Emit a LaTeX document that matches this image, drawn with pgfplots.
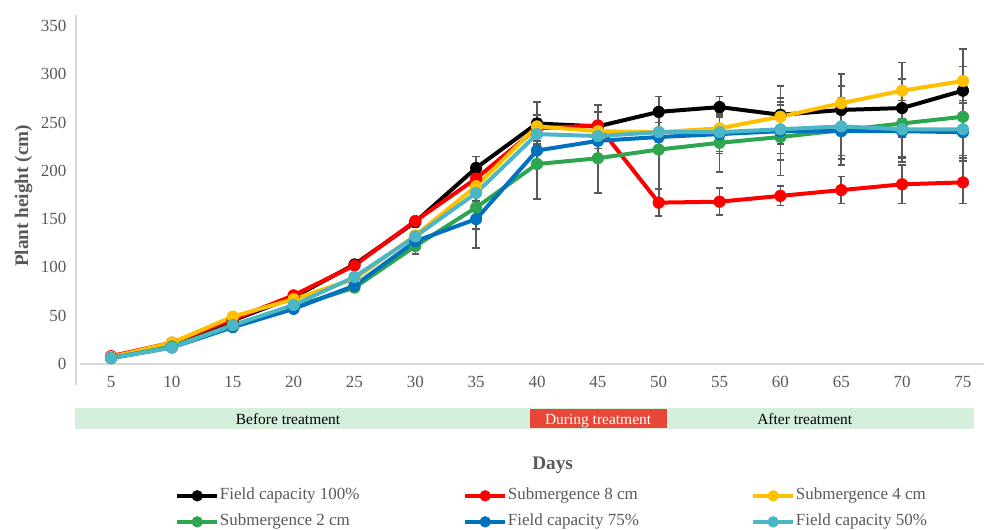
\documentclass[border=0pt]{standalone}
\usepackage{fontspec}
\setmainfont{Liberation Serif}
\usepackage{pgfplots}
\pgfplotsset{compat=1.18}
\definecolor{cBlack}{RGB}{0,0,0}
\definecolor{cRed}{RGB}{255,0,0}
\definecolor{cYel}{RGB}{255,192,0}
\definecolor{cGreen}{RGB}{46,166,80}
\definecolor{cBlue}{RGB}{0,112,192}
\definecolor{cCyan}{RGB}{75,182,197}
\definecolor{ebcol}{RGB}{89,89,89}
\definecolor{txtcol}{RGB}{89,89,89}
\definecolor{axcol}{RGB}{217,217,217}
\definecolor{bandG}{RGB}{212,239,220}
\definecolor{bandR}{RGB}{232,70,55}
\pgfplotsset{
  eb/.style={error bars/.cd, y dir=both, y explicit,
    error bar style={color=ebcol, line width=1.2pt, solid},
    error mark options={color=ebcol, line width=1.2pt, mark size=2.8pt, rotate=90}},
  ser/.style={color=#1, line width=3pt, mark=*, mark size=4.3pt,
    mark options={solid, fill=#1, draw=#1, line width=0.5pt}},
}
\begin{document}
\begin{tikzpicture}
\begin{axis}[
  scale only axis, width=687.3pt, height=267.5pt,
  xmin=2.2, xmax=77.5, ymin=-8, ymax=361.4,
  clip=false,
  axis line style={draw=none},
  xtick={5,10,...,75}, ytick={0,50,...,350},
  major tick length=0pt,
  tick label style={font=\fontsize{12.75}{15}\selectfont, color=txtcol},
  /pgf/number format/assume math mode=true,
  yticklabel style={xshift=-4.5pt},
  xlabel={Days}, ylabel={Plant height (cm)},
  label style={font=\bfseries\fontsize{14.4}{17}\selectfont, color=txtcol},
  xlabel style={at={(axis description cs:0.519,-0.2616)}, anchor=center},
  ylabel style={at={(axis description cs:-0.0584,0.4926)}, anchor=center},
  legend columns=3,
  legend style={draw=none, fill=none, inner sep=0pt,
    at={(axis description cs:0.1069,-0.3232)}, anchor=north west,
    row sep=6.5pt,
    nodes={inner sep=0.5pt, text height=9pt, text depth=3pt,
      font=\fontsize{12.75}{15}\selectfont, text=txtcol}},
  legend cell align=left,
  legend image code/.code={\draw[#1, mark repeat=2, mark phase=2, mark size=4pt]
    plot coordinates {(0pt,0pt) (15pt,0pt) (30pt,0pt)};},
]
% axis lines and treatment band
\draw[axcol, line width=1.1pt] (axis cs:2.45,0) -- (axis cs:77.6,0);
\draw[axcol, line width=1.1pt] (axis cs:2.12,-21.7) -- (axis cs:2.12,361.4);
\fill[bandG] (axis cs:2.02,-45.25) rectangle (axis cs:75.9,-67.6);
\fill[bandR] (axis cs:39.43,-46.6) rectangle (axis cs:50.69,-66.3);
\node[font=\fontsize{11.6}{14}\selectfont, text=black, anchor=base] at (axis cs:19.54,-62.6) {Before treatment};
\node[font=\fontsize{11.6}{14}\selectfont, text=white, anchor=base] at (axis cs:45.02,-62.6) {During treatment};
\node[font=\fontsize{11.6}{14}\selectfont, text=black, anchor=base] at (axis cs:62.0,-62.6) {After treatment};
\coordinate (BL) at (axis cs:-4.127,-171.9);
\coordinate (TR) at (axis cs:76.73,376.9);

\addplot[ser=cBlack, eb] coordinates {
(5,7) +- (0,1) (10,20) +- (0,2) (15,45) +- (0,3) (20,69) +- (0,3) (25,103) +- (0,4)
(30,147) +- (0,5) (35,203) +- (0,12) (40,249) +- (0,22) (45,246) +- (0,15) (50,261) +- (0,16)
(55,266) +- (0,11) (60,258) +- (0,30) (65,263) +- (0,25) (70,265) +- (0,30) (75,283) +- (0,25)};
\addlegendentry{\makebox[182pt][l]{Field capacity 100\%}}

\addplot[ser=cRed, eb] coordinates {
(5,8) +- (0,1) (10,22) +- (0,2) (15,46) +- (0,3) (20,71) +- (0,3) (25,102) +- (0,4)
(30,148) +- (0,4) (35,192) +- (0,10) (40,244) +- (0,10) (45,247) +- (0,21) (50,167) +- (0,14)
(55,168) +- (0,14) (60,174) +- (0,10) (65,180) +- (0,14) (70,186) +- (0,20) (75,188) +- (0,22)};
\addlegendentry{\makebox[182pt][l]{Submergence 8 cm}}

\addplot[ser=cYel, eb] coordinates {
(5,7) +- (0,1) (10,22) +- (0,2) (15,49) +- (0,3) (20,67) +- (0,3) (25,88) +- (0,4)
(30,133) +- (0,5) (35,184) +- (0,10) (40,246) +- (0,12) (45,241) +- (0,10) (50,240) +- (0,10)
(55,244) +- (0,12) (60,256) +- (0,20) (65,270) +- (0,30) (70,283) +- (0,29) (75,293) +- (0,33)};
\addlegendentry{Submergence 4 cm}

\addplot[ser=cGreen, eb] coordinates {
(5,6) +- (0,1) (10,18) +- (0,2) (15,40) +- (0,3) (20,59) +- (0,3) (25,79) +- (0,4)
(30,122) +- (0,8) (35,162) +- (0,22) (40,207) +- (0,36) (45,213) +- (0,36) (50,222) +- (0,41)
(55,229) +- (0,30) (60,235) +- (0,40) (65,242) +- (0,30) (70,249) +- (0,35) (75,256) +- (0,40)};
\addlegendentry{\makebox[182pt][l]{Submergence 2 cm}}

\addplot[ser=cBlue, eb] coordinates {
(5,6) +- (0,1) (10,17) +- (0,2) (15,38) +- (0,3) (20,57) +- (0,3) (25,81) +- (0,4)
(30,127) +- (0,5) (35,150) +- (0,30) (40,221) +- (0,10) (45,231) +- (0,8) (50,235) +- (0,10)
(55,238) +- (0,20) (60,241) +- (0,30) (65,241) +- (0,35) (70,241) +- (0,32) (75,240) +- (0,30)};
\addlegendentry{\makebox[182pt][l]{Field capacity 75\%}}

\addplot[ser=cCyan, eb] coordinates {
(5,6) +- (0,1) (10,17) +- (0,2) (15,40) +- (0,3) (20,61) +- (0,3) (25,90) +- (0,4)
(30,132) +- (0,5) (35,177) +- (0,8) (40,238) +- (0,10) (45,236) +- (0,8) (50,240) +- (0,10)
(55,240) +- (0,20) (60,243) +- (0,25) (65,246) +- (0,30) (70,243) +- (0,30) (75,243) +- (0,30)};
\addlegendentry{Field capacity 50\%}
\end{axis}
\pgfresetboundingbox
\useasboundingbox (BL) rectangle (TR);
\end{tikzpicture}
\end{document}
